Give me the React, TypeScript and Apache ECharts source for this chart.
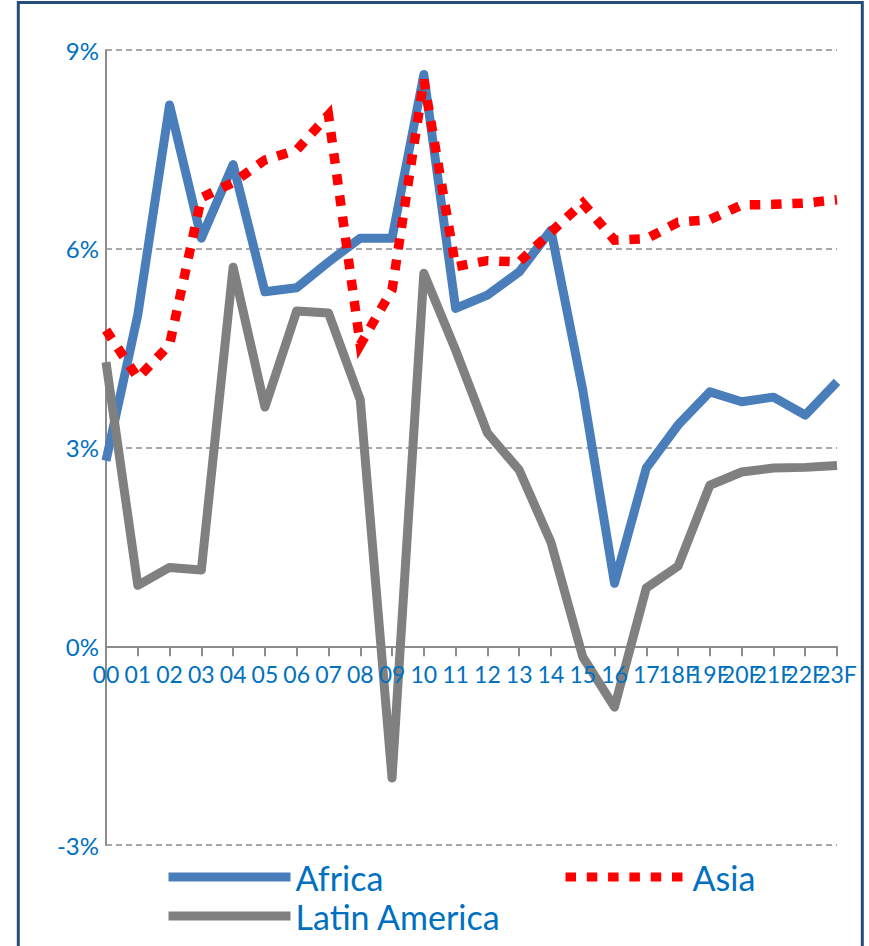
import React, { useEffect, useRef } from "react";
import * as echarts from "echarts";

const categories = ["00","01","02","03","04","05","06","07","08","09","10","11","12","13","14","15","16","17","18F","19F","20F","21F","22F","23F"];
const africa = [2.8, 5.0, 8.17, 6.16, 7.27, 5.35, 5.41, 5.8, 6.16, 6.16, 8.63, 5.1, 5.3, 5.65, 6.28, 3.87, 0.95, 2.69, 3.34, 3.84, 3.69, 3.76, 3.49, 3.99];
const asia = [4.77, 4.05, 4.55, 6.77, 7.0, 7.34, 7.49, 8.02, 4.55, 5.38, 8.55, 5.73, 5.82, 5.8, 6.25, 6.69, 6.13, 6.15, 6.4, 6.44, 6.66, 6.67, 6.69, 6.74];
const latinAmerica = [4.29, 0.92, 1.19, 1.15, 5.72, 3.61, 5.06, 5.03, 3.72, -1.99, 5.63, 4.47, 3.22, 2.66, 1.57, -0.16, -0.92, 0.88, 1.21, 2.43, 2.63, 2.69, 2.7, 2.73];
const yTicks = { min: -3, max: 9, interval: 3 };

const FONT = "Lato";
const LABEL_BLUE = "#0070C0";
const GRAY_AXIS = "#8c8c8c";

export default function App() {
  const ref = useRef<HTMLDivElement>(null);
  useEffect(() => {
    if (!ref.current) return;
    const chart = echarts.init(ref.current, undefined, { renderer: "svg" });
    const legendText = { fontFamily: FONT, fontSize: 34, color: LABEL_BLUE, padding: [0, 0, 10, 0] };
    const legendCommon = {
      orient: "horizontal" as const,
      itemWidth: 122,
      itemHeight: 10,
      itemGap: 0,
      textStyle: legendText,
      lineStyle: { width: 9, cap: "butt" as const },
      itemStyle: { opacity: 0, borderWidth: 0 },
      selectedMode: false,
    };
    chart.setOption({
      animation: false,
      backgroundColor: "#ffffff",
      grid: { left: 106, right: 32, top: 50, bottom: 101, outerBoundsMode: "none" },
      graphic: [
        {
          type: "rect",
          shape: { x: 18.3, y: 2.5, width: 844, height: 1000 },
          style: { fill: "none", stroke: "#264B7D", lineWidth: 3 },
          silent: true,
          z: 100,
        },
      ],
      legend: [
        { ...legendCommon, data: ["Africa"], left: 159, top: 855 },
        { ...legendCommon, data: ["Asia"], left: 556, top: 855 },
        { ...legendCommon, data: ["Latin America"], left: 159, top: 894 },
      ],
      xAxis: [
        {
          type: "category",
          data: categories,
          boundaryGap: false,
          position: "bottom",
          axisLine: { show: true, onZero: true, lineStyle: { color: GRAY_AXIS, width: 2 } },
          axisTick: { show: true, length: 10, interval: 0, lineStyle: { color: GRAY_AXIS, width: 2 } },
          axisLabel: { show: false },
          splitLine: { show: false },
          z: 0,
        },
        {
          type: "category",
          data: categories,
          boundaryGap: false,
          position: "bottom",
          offset: 0,
          axisLine: { show: false, onZero: false },
          axisTick: { show: false },
          axisLabel: { interval: 0, margin: -183, color: LABEL_BLUE, fontFamily: FONT, fontSize: 23 },
          splitLine: { show: false },
          z: 10,
        },
      ],
      yAxis: {
        type: "value",
        min: yTicks.min,
        max: yTicks.max,
        interval: yTicks.interval,
        axisLine: { show: true, lineStyle: { color: GRAY_AXIS, width: 2 } },
        axisTick: { show: false },
        axisLabel: {
          margin: 7,
          color: LABEL_BLUE,
          fontFamily: FONT,
          fontSize: 24,
          formatter: (v: number) => `${v}%`,
        },
        splitLine: { show: true, lineStyle: { color: GRAY_AXIS, width: 1.5, type: [6, 4] } },
      },
      series: [
        {
          name: "Africa",
          type: "line",
          data: africa,
          xAxisIndex: 0,
          showSymbol: false,
          symbol: "none",
          itemStyle: { color: "#4A7EBB" },
          lineStyle: { color: "#4A7EBB", width: 9, join: "round", cap: "butt" },
          z: 2,
        },
        {
          name: "Asia",
          type: "line",
          data: asia,
          xAxisIndex: 0,
          showSymbol: false,
          symbol: "none",
          itemStyle: { color: "#FF0000" },
          lineStyle: { color: "#FF0000", width: 9.5, type: [10.5, 10.8], join: "miter", cap: "butt" },
          z: 3,
        },
        {
          name: "Latin America",
          type: "line",
          data: latinAmerica,
          xAxisIndex: 0,
          showSymbol: false,
          symbol: "none",
          itemStyle: { color: "#808080" },
          lineStyle: { color: "#808080", width: 9, join: "round", cap: "butt" },
          z: 4,
        },
      ],
    });
    return () => chart.dispose();
  }, []);
  return (
    <div
      ref={ref}
      style={{ position: "fixed", left: 0, top: 0, width: 869, height: 946, background: "#fff" }}
    />
  );
}
